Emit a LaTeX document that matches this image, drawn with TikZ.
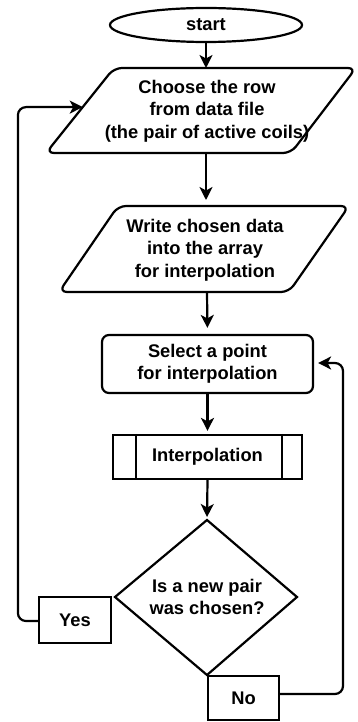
\documentclass[tikz,border=0pt]{standalone}
\usepackage{fontspec}
\setmainfont{Liberation Sans}
\usetikzlibrary{arrows.meta,shapes.geometric,calc}
\begin{document}
\begin{tikzpicture}[x=1pt,y=-1pt,
  line width=2.2pt,
  every node/.style={font=\fontsize{18.3}{22.5}\selectfont\bfseries, align=center, inner sep=0pt},
  arr/.style={-{Stealth[length=13pt,width=13pt,inset=3.5pt]}, line width=2.2pt},
  boxed/.style={draw, rectangle, line width=2.2pt},
  shp/.style={draw, line width=2.2pt, rounded corners=8pt, line join=round}
]
\useasboundingbox (0,0) rectangle (358,722);

% start
\node[draw, ellipse, minimum width=192pt, minimum height=34pt] (start) at (206,25) {start};

% parallelogram 1
\coordinate (p1tl) at (114,68);
\coordinate (p1tr) at (356,68);
\coordinate (p1br) at (291,153);
\coordinate (p1bl) at (46,153);
\draw[shp] (p1tl) -- (p1tr) -- (p1br) -- (p1bl) -- cycle;
\node (p1) at (207,111) {Choose the row\\from data file\\(the pair of active coils)};
\coordinate (p1top) at (206,68);
\coordinate (p1bot) at (206,153);
\coordinate (p1left) at ($(p1tl)!0.46!(p1bl)$);

% parallelogram 2
\coordinate (p2tl) at (118,206);
\coordinate (p2tr) at (349,206);
\coordinate (p2br) at (289,292);
\coordinate (p2bl) at (59,292);
\draw[shp] (p2tl) -- (p2tr) -- (p2br) -- (p2bl) -- cycle;
\node (p2) at (205,250) {Write chosen data\\into the array\\for interpolation};
\coordinate (p2top) at (206,206);
\coordinate (p2bot) at (207,292);

% select
\node[boxed, rounded corners=7pt, minimum width=211pt, minimum height=58pt] (sel) at (207.5,364) {Select a point\\for interpolation};

% interpolation
\node[boxed, minimum width=189pt, minimum height=44pt] (interp) at (207.5,457) {Interpolation};
\draw ($(interp.north west)+(24,0)$) -- ($(interp.south west)+(24,0)$);
\draw ($(interp.north east)+(-21,0)$) -- ($(interp.south east)+(-21,0)$);

% decision
\coordinate (dtop) at (207,520);
\coordinate (dright) at (297,597);
\coordinate (dbot) at (207,675);
\coordinate (dleft) at (115,597);
\draw[line width=2.2pt, line join=miter] (dtop) -- (dright) -- (dbot) -- (dleft) -- cycle;
\node (dia) at (207,597) {Is a new pair\\was chosen?};

% yes / no
\node[boxed, minimum width=72pt, minimum height=46pt] (yes) at (75,620) {Yes};
\node[boxed, minimum width=71pt, minimum height=44pt] (no) at (243.5,698) {No};

% connectors
\draw[arr] (start.south) -- (p1top);
\draw[arr, shorten >=6pt] (p1bot) -- (p2top);
\draw[arr, shorten >=6pt] (p2bot) -- (sel.north);
\draw[arr, shorten >=3pt] (sel.south) -- (interp.north);
\draw[arr, shorten >=3pt] (interp.south) -- (dtop);
\draw[arr, rounded corners=8pt] ([yshift=-1pt]yes.west) -- ++(-20,0) |- (p1left);
\draw[arr, rounded corners=8pt] ([yshift=4pt]no.east) -- (343,694) |- ([xshift=4pt,yshift=1pt]sel.east);
\end{tikzpicture}
\end{document}
